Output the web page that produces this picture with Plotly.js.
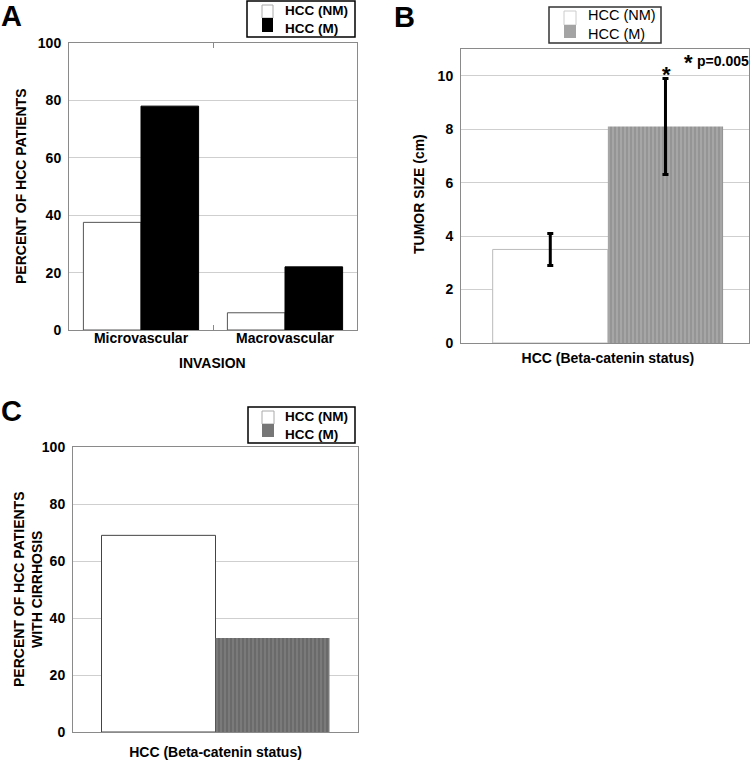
<!DOCTYPE html>
<html>
<head>
<meta charset="utf-8">
<script src="https://cdn.plot.ly/plotly-3.0.1.min.js"></script>
<style>html,body{margin:0;padding:0;background:#fff}#chart{width:755px;height:761px}</style>
</head>
<body>
<div id="chart"></div>
<script>
// ---- data ----
const seriesNames = ['HCC (NM)', 'HCC (M)'];
const invasionCats = ['Microvascular', 'Macrovascular'];
const invasionNM = [37.5, 6];
const invasionM = [78, 22];
const sizeCats = ['HCC (Beta-catenin status)'];
const sizeNM = [3.5];
const sizeNMerr = [0.6];
const sizeM = [8.1];
const sizeMerr = [1.8];
const cirrCats = ['HCC (Beta-catenin status)'];
const cirrNM = [69];
const cirrM = [33];
const yTicksPct = [0, 20, 40, 60, 80, 100];
const yTicksSize = [0, 2, 4, 6, 8, 10];
const titleA = {x: 'INVASION', y: 'PERCENT OF HCC PATIENTS'};
const titleB = {y: 'TUMOR SIZE (cm)'};
const titleC = {y: 'PERCENT OF HCC PATIENTS<br>WITH CIRRHOSIS'};

const FONT = 'Liberation Sans, Arial, Helvetica, sans-serif';
const W = 755, H = 761;
const px = v => v / W;
const py = v => 1 - v / H;

const colA = {nm: '#ffffff', nmLine: '#555555', m: '#000000'};
const colB = {nm: '#ffffff', nmLine: '#bbbbbb', m: '#a4a4a4'};
const colC = {nm: '#ffffff', nmLine: '#444444', m: '#767676'};
const stripeB = {shape: '|', bgcolor: '#a6a6a6', fgcolor: '#8e8e8e', size: 4, solidity: 0.35};
const stripeC = {shape: '|', bgcolor: '#7a7a7a', fgcolor: '#636363', size: 4, solidity: 0.35};

const traces = [
  {type: 'bar', name: seriesNames[0], x: invasionCats, y: invasionNM, xaxis: 'x', yaxis: 'y',
   marker: {color: colA.nm, line: {color: colA.nmLine, width: 1}}},
  {type: 'bar', name: seriesNames[1], x: invasionCats, y: invasionM, xaxis: 'x', yaxis: 'y',
   marker: {color: colA.m, line: {color: colA.m, width: 1}}},
  {type: 'bar', name: seriesNames[0], x: sizeCats, y: sizeNM, xaxis: 'x2', yaxis: 'y2',
   error_y: {type: 'data', array: sizeNMerr, visible: true, color: '#000', thickness: 3, width: 3},
   marker: {color: colB.nm, line: {color: colB.nmLine, width: 1}}},
  {type: 'bar', name: seriesNames[1], x: sizeCats, y: sizeM, xaxis: 'x2', yaxis: 'y2',
   error_y: {type: 'data', array: sizeMerr, visible: true, color: '#000', thickness: 3, width: 3},
   marker: {color: colB.m, pattern: stripeB, line: {width: 0}}},
  {type: 'bar', name: seriesNames[0], x: cirrCats, y: cirrNM, xaxis: 'x3', yaxis: 'y3',
   marker: {color: colC.nm, line: {color: colC.nmLine, width: 1}}},
  {type: 'bar', name: seriesNames[1], x: cirrCats, y: cirrM, xaxis: 'x3', yaxis: 'y3',
   marker: {color: colC.m, pattern: stripeC, line: {width: 0}}}
];

const dx = (a, b) => [a / W, b / W];
const dy = (top, bot) => [1 - bot / H, 1 - top / H];
const tickFont = {family: FONT, size: 14, color: '#000', weight: 'bold'};
const titleFont = {family: FONT, size: 14, color: '#000', weight: 'bold'};

function yax(domain, range, tickvals, anchor) {
  return {domain: domain, range: range, tickvals: tickvals, anchor: anchor,
    showgrid: true, gridcolor: '#cfcfcf', gridwidth: 1, zeroline: false,
    showline: true, linecolor: '#8a8a8a', linewidth: 1, mirror: true, ticks: '',
    tickfont: tickFont, ticklabelstandoff: 4, automargin: false, fixedrange: true};
}
function xax(domain, range, anchor, tstand) {
  return {domain: domain, range: range, anchor: anchor, type: 'category',
    showgrid: false, zeroline: false, showline: true, linecolor: '#8a8a8a', linewidth: 1,
    mirror: 'ticks', ticks: 'inside', ticklen: 5, tickcolor: '#8a8a8a', tickson: 'boundaries',
    tickfont: tickFont, ticklabelstandoff: tstand, automargin: false, fixedrange: true};
}

const shapes = [];
const annotations = [];
// axis titles placed as annotations (exact placement as in the original)
function axTitle(text, x, y, angle) {
  annotations.push({text: text, xref: 'paper', yref: 'paper', x: px(x), y: py(y), xanchor: 'center', yanchor: 'middle',
    textangle: angle, showarrow: false, font: titleFont});
}
axTitle(titleA.y, 21, 186, -90);
axTitle(titleA.x, 212, 363, 0);
axTitle(titleB.y, 419, 194, -90);
axTitle(titleC.y, 28, 589, -90);

// ---- hand-drawn compact legends, like the original ----
function legend(box, sw, textX, fills, lines, font) {
  shapes.push({type: 'rect', xref: 'paper', yref: 'paper', x0: px(box[0]), x1: px(box[1]), y0: py(box[3]), y1: py(box[2]),
    line: {color: box[4], width: 1.5}, fillcolor: '#ffffff', layer: 'above'});
  for (let i = 0; i < 2; i++) {
    shapes.push({type: 'rect', xref: 'paper', yref: 'paper', x0: px(sw[0]), x1: px(sw[1]),
      y0: py(sw[2 + i + 1]), y1: py(sw[2 + i]),
      line: {color: lines[i], width: lines[i] === fills[i] ? 0 : 1}, fillcolor: fills[i], layer: 'above'});
  }
  annotations.push({text: seriesNames.join('<br>'), xref: 'paper', yref: 'paper', x: px(textX), y: py((box[2] + box[3]) / 2),
    xanchor: 'left', yanchor: 'middle', align: 'left', showarrow: false, font: font, borderpad: 0});
}
const legBold = {family: FONT, size: 13.5, color: '#000', weight: 'bold'};
const legReg = {family: FONT, size: 14.5, color: '#000', weight: 'normal'};
legend([247, 355, 1, 37, '#000'], [262, 273, 5, 18, 32], 284, [colA.nm, colA.m], ['#aaaaaa', colA.m], legBold);
legend([549, 661, 7, 43, '#333'], [564, 576, 11, 25, 38], 587, [colB.nm, colB.m], ['#cccccc', colB.m], legReg);
legend([248, 355, 407, 443, '#000'], [262, 274, 411, 424, 437], 284, [colC.nm, colC.m], ['#aaaaaa', colC.m], legBold);

const panelFont = {family: FONT, size: 29, weight: 'bold', color: '#000'};
annotations.push(
  {text: 'A', xref: 'paper', yref: 'paper', x: px(-1), y: py(-2), xanchor: 'left', yanchor: 'top', showarrow: false, font: panelFont},
  {text: 'B', xref: 'paper', yref: 'paper', x: px(392), y: py(-1), xanchor: 'left', yanchor: 'top', showarrow: false, font: panelFont},
  {text: 'C', xref: 'paper', yref: 'paper', x: px(-1), y: py(393), xanchor: 'left', yanchor: 'top', showarrow: false, font: panelFont},
  {text: '*', xref: 'x2', yref: 'paper', x: 0.205, y: py(74), xanchor: 'center', yanchor: 'middle', showarrow: false,
   font: {family: FONT, size: 22, weight: 'bold', color: '#000'}},
  {text: '*', xref: 'paper', yref: 'paper', x: px(688), y: py(63), xanchor: 'center', yanchor: 'middle', showarrow: false,
   font: {family: FONT, size: 22, weight: 'bold', color: '#000'}},
  {text: 'p=0.005', xref: 'paper', yref: 'paper', x: px(751), y: py(61), xanchor: 'right', yanchor: 'middle', showarrow: false,
   font: {family: FONT, size: 14, weight: 'bold', color: '#000'}}
);

const layout = {
  width: W, height: H, margin: {l: 0, r: 0, t: 0, b: 0},
  paper_bgcolor: '#ffffff', plot_bgcolor: '#ffffff',
  barmode: 'group', bargap: 0.2, bargroupgap: 0,
  font: {family: FONT, color: '#000'},
  showlegend: false,
  xaxis: xax(dx(69, 357), [-0.5, 1.5], 'y', -5),
  yaxis: yax(dy(43, 330), [0, 100], yTicksPct, 'x'),
  xaxis2: Object.assign(xax(dx(461, 749), [-0.51, 0.49], 'y2', 2), {ticks: ''}),
  yaxis2: yax(dy(49, 343), [0, 11], yTicksSize, 'x2'),
  xaxis3: Object.assign(xax(dx(73, 358), [-0.5, 0.5], 'y3', 7), {ticks: ''}),
  yaxis3: yax(dy(447, 732), [0, 100], yTicksPct, 'x3'),
  shapes: shapes,
  annotations: annotations
};

Plotly.newPlot('chart', traces, layout, {displayModeBar: false, staticPlot: true});
</script>
</body>
</html>
